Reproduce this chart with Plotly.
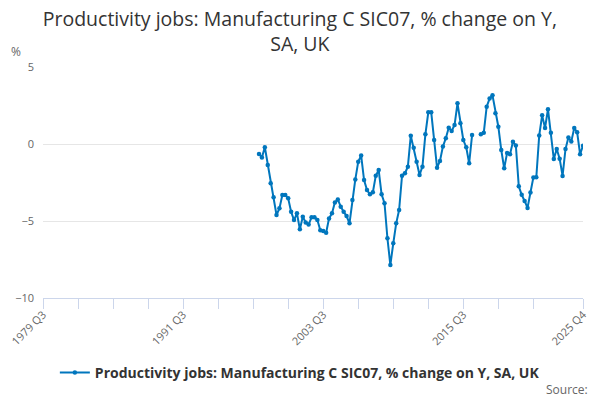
import plotly.graph_objects as go

# quarterly axis, 1979 Q3 .. 2025 Q4
first_year, first_q = 1979, 3
last_year, last_q = 2025, 4

quarters = []
y, q = first_year, first_q
while (y, q) <= (last_year, last_q):
    quarters.append(f"{y} Q{q}")
    q += 1
    if q > 4:
        y, q = y + 1, 1

# % change on year, 1998 Q1 .. 2016 Q2
values_1998_2016 = [
    -0.65, -0.87, -0.21, -1.36, -2.55, -3.46, -4.61, -4.18, -3.31, -3.31,
    -3.53, -4.4, -4.94, -4.5, -5.54, -4.72, -5.1, -5.23, -4.76, -4.76,
    -4.94, -5.6, -5.65, -5.76, -4.83, -4.5, -3.8, -3.6, -4.07, -4.4,
    -4.68, -5.15, -3.64, -2.3, -1.15, -0.75, -2.34, -2.99, -3.27, -3.14,
    -2.06, -1.69, -3.27, -3.85, -6.12, -7.86, -6.45, -5.15, -4.29, -2.06,
    -1.9, -1.47, 0.54, -0.24, -1.15, -2.01, -1.47, 0.63, 2.06, 2.06,
    0.26, -1.54, -1.1, -0.17, 0.37, 1.06, 0.84, 1.23, 2.64, 1.35,
    0.26, -0.21, -1.25, 0.58,
]
# 2016 Q3 and 2016 Q4 not available
values_gap = [None, None]
# 2017 Q1 .. 2025 Q4
values_2017_2025 = [
    0.63, 0.73, 2.42, 2.95, 3.16, 2.0, 1.12, -0.39, -1.58, -0.58,
    -0.66, 0.15, -0.1, -2.75, -3.3, -3.7, -4.15, -3.15, -2.17, -2.16,
    0.56, 1.86, 1.04, 2.26, 0.73, -0.98, -0.33, -0.95, -2.07, -0.33,
    0.42, 0.17, 1.04, 0.76, -0.66, -0.12,
]

series_start = "1998 Q1"
values = values_1998_2016 + values_gap + values_2017_2025
start_i = quarters.index(series_start)
x_vals = quarters[start_i:start_i + len(values)]

tick_labels = ["1979 Q3", "1991 Q3", "2003 Q3", "2015 Q3", "2025 Q4"]
minor_ticks = [quarters[i] for i in range(12, len(quarters) - 6, 12)]

series_name = "Productivity jobs: Manufacturing C SIC07, % change on Y, SA, UK"
line_col = "#0076bd"

# the page body adds an 8px offset, so the figure is drawn 8px smaller
fig_w, fig_h = 592, 392

fig = go.Figure()
fig.add_trace(go.Scatter(
    x=x_vals, y=values, name=series_name, mode="lines+markers",
    line=dict(color=line_col, width=2),
    marker=dict(color=line_col, size=4.5),
    connectgaps=False,
))

fig.update_layout(
    width=fig_w, height=fig_h,
    margin=dict(l=35, r=17, t=59, b=102),
    paper_bgcolor="white", plot_bgcolor="white",
    font=dict(family="Open Sans, sans-serif", color="#666666"),
    title=dict(
        text="Productivity jobs: Manufacturing C SIC07, % change on Y,<br>SA, UK",
        x=0.493, xanchor="center", xref="container",
        y=0.955, yanchor="top", yref="container",
        font=dict(size=19.5, color="#333333"),
    ),
    showlegend=True,
    legend=dict(
        orientation="h", xref="container", yref="container",
        x=0.493, xanchor="center", y=0.069, yanchor="middle",
        font=dict(size=14, color="#333333", weight="bold"),
    ),
    xaxis=dict(
        type="category", categoryorder="array", categoryarray=quarters,
        range=[0, len(quarters) - 1], automargin=False,
        tickmode="array", tickvals=tick_labels, ticktext=tick_labels,
        tickangle=-45, tickfont=dict(size=11, color="#666666"),
        ticklabelstandoff=-5,
        ticks="outside", ticklen=10, tickcolor="#ccd6eb",
        minor=dict(tickmode="array", tickvals=minor_ticks, ticks="outside",
                   ticklen=10, tickcolor="#ccd6eb", showgrid=False),
        showline=True, linecolor="#ccd6eb", linewidth=1,
        showgrid=False, zeroline=False,
    ),
    yaxis=dict(
        range=[-10, 5], tickvals=[-10, -5, 0, 5], automargin=False,
        tickfont=dict(size=11, color="#666666"),
        gridcolor="#e6e6e6", gridwidth=1, zeroline=False,
        ticks="", ticklabelstandoff=8,
    ),
    annotations=[
        dict(text="%", xref="paper", yref="paper", x=-0.063, y=1.065,
             xanchor="left", yanchor="middle", showarrow=False,
             font=dict(size=12, color="#666666")),
        dict(text="Source:", xref="paper", yref="paper",
             x=1.013, y=-0.398, xanchor="right", yanchor="middle",
             showarrow=False, font=dict(size=12, color="#666666")),
    ],
)

fig.write_html("out.html")
